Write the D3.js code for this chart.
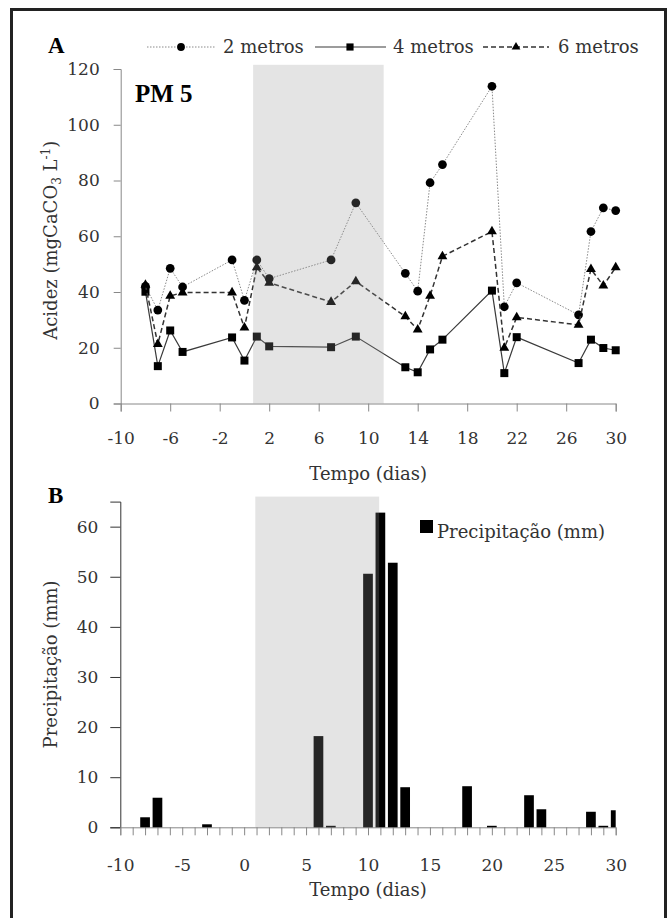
<!DOCTYPE html>
<html>
<head>
<meta charset="utf-8">
<script src="https://cdn.jsdelivr.net/npm/d3@7"></script>
<style>
  body { margin: 0; background: #fff; }
  text { font-family: "DejaVu Serif", serif; fill: #333; }
  .bold { font-family: "Liberation Serif", serif; font-weight: bold; fill: #000; }
</style>
</head>
<body>
<svg width="670" height="918"></svg>
<script>
// --- data ---
const days = [-8, -7, -6, -5, -1, 0, 1, 2, 7, 9, 13, 14, 15, 16, 20, 21, 22, 27, 28, 29, 30];
const metros2 = [42, 33.5, 48.5, 41.8, 51.5, 37, 51.5, 44.8, 51.5, 72, 46.7, 40.3, 79.2, 85.7, 113.8, 34.7, 43.3, 31.8, 61.7, 70.2, 69.2];
const metros4 = [40.1, 13.4, 26.2, 18.5, 23.7, 15.4, 24, 20.5, 20.2, 24, 13, 11.2, 19.4, 22.9, 40.5, 10.9, 23.8, 14.5, 22.9, 19.9, 19.1];
const metros6 = [42.5, 21.3, 38.6, 39.8, 39.8, 27.2, 48.8, 43.3, 36.4, 43.8, 31.2, 26.5, 38.6, 52.8, 61.7, 19.9, 30.9, 28.2, 48.2, 42.3, 48.8];

const rainDays = [-8, -7, -3, 6, 7, 10, 11, 12, 13, 18, 20, 23, 24, 28, 29, 30];
const rainMm = [2, 5.9, 0.6, 18.2, 0.3, 50.6, 62.8, 52.8, 8, 8.2, 0.3, 6.4, 3.6, 3.1, 0.3, 3.4];

const shadeA = [0.7, 11.25];
const shadeB = [0.9, 10.9];
const ticksA = d3.range(-10, 31, 4);
const ticksAy = d3.range(0, 121, 20);
const ticksB = d3.range(-10, 31, 5);
const ticksBy = d3.range(0, 61, 10);

const svg = d3.select("svg");
const overlay = "rgba(149,149,149,0.255)";
const axisCol = "#888";
const plain = d => String(d);   // hyphen minus, like the original

// outer frame
svg.append("rect")
  .attr("x", 11.5).attr("y", 9.5).attr("width", 654).attr("height", 920)
  .attr("fill", "none").attr("stroke", "#222").attr("stroke-width", 3);

// ================= panel A =================
const xA = d3.scaleLinear().domain([-10, 30]).range([120.7, 615.7]);
const yA = d3.scaleLinear().domain([0, 120]).range([403.5, 69]);

const gA = svg.append("g");

const yAxisA = gA.append("g").attr("transform", `translate(${xA(-10)},0)`)
  .call(d3.axisLeft(yA).tickValues(ticksAy).tickSize(7).tickPadding(14).tickFormat(plain));
const xAxisA = gA.append("g").attr("transform", `translate(0,${yA(0)})`)
  .call(d3.axisBottom(xA).tickValues(ticksA).tickSize(8).tickPadding(20).tickFormat(plain));
[yAxisA, xAxisA].forEach(a => {
  a.selectAll("path,line").attr("stroke", axisCol);
  a.selectAll("text").attr("font-size", 17).attr("font-family", "DejaVu Serif").attr("fill", "#333");
});

const series = [
  { name: "2 metros", values: metros2, sym: d3.symbolCircle, size: 60, stroke: "#8a8a8a", width: 1, dash: "1.5,1.5" },
  { name: "4 metros", values: metros4, sym: d3.symbolSquare, size: 64, stroke: "#3a3a3a", width: 1.2, dash: null },
  { name: "6 metros", values: metros6, sym: d3.symbolTriangle, size: 42, stroke: "#333", width: 1.5, dash: "5,3" }
];

const line = d3.line().x(d => xA(d[0])).y(d => yA(d[1]));
series.forEach(s => {
  const pts = days.map((d, i) => [d, s.values[i]]);
  gA.append("path").datum(pts)
    .attr("d", line)
    .attr("fill", "none")
    .attr("stroke", s.stroke)
    .attr("stroke-width", s.width)
    .attr("stroke-dasharray", s.dash);
  gA.selectAll(null).data(pts).enter().append("path")
    .attr("d", d3.symbol().type(s.sym).size(s.size))
    .attr("transform", d => `translate(${xA(d[0])},${yA(d[1])})`)
    .attr("fill", "#000");
});

// shaded period drawn on top (marks show through darkened)
gA.append("rect")
  .attr("x", xA(shadeA[0])).attr("width", xA(shadeA[1]) - xA(shadeA[0]))
  .attr("y", yA(121.5)).attr("height", yA(0) - yA(121.5))
  .attr("fill", overlay);

gA.append("text").attr("class", "bold").attr("x", 135).attr("y", 102)
  .attr("font-size", 25).text("PM 5");
svg.append("text").attr("class", "bold").attr("x", 48).attr("y", 53)
  .attr("font-size", 23).text("A");

const yLabA = svg.append("text")
  .attr("transform", `translate(57,${(yA(0) + yA(120)) / 2 + 4}) rotate(-90)`)
  .attr("text-anchor", "middle").attr("font-size", 18);
yLabA.append("tspan").text("Acidez (mgCaCO");
yLabA.append("tspan").attr("font-size", 12).attr("dy", 4).text("3");
yLabA.append("tspan").attr("dy", -4).text(" L");
yLabA.append("tspan").attr("font-size", 12).attr("dy", -7).text("-1");
yLabA.append("tspan").attr("dy", 7).text(")");

svg.append("text").attr("x", xA(10)).attr("y", 480)
  .attr("text-anchor", "middle").attr("font-size", 18).text("Tempo (dias)");

// legend A
const legA = [
  { lx: [147, 215], mx: 181, tx: 223 },
  { lx: [315, 386], mx: 350, tx: 393 },
  { lx: [483, 549], mx: 516, tx: 558 }
];
series.forEach((s, i) => {
  const l = legA[i];
  svg.append("line").attr("x1", l.lx[0]).attr("x2", l.lx[1]).attr("y1", 47).attr("y2", 47)
    .attr("stroke", s.stroke).attr("stroke-width", s.width).attr("stroke-dasharray", s.dash);
  svg.append("path").attr("d", d3.symbol().type(s.sym).size(s.size * 0.8))
    .attr("transform", `translate(${l.mx},47)`).attr("fill", "#000");
  svg.append("text").attr("x", l.tx).attr("y", 53).attr("font-size", 18).text(s.name);
});

// ================= panel B =================
const xB = d3.scaleLinear().domain([-10, 30]).range([120.3, 615.7]);
const yB = d3.scaleLinear().domain([0, 65]).range([827.3, 501.6]);
const barW = 9.7;

svg.append("clipPath").attr("id", "clipB").append("rect")
  .attr("x", xB(-10)).attr("y", 480).attr("width", xB(30) - xB(-10)).attr("height", 360);

const gB = svg.append("g");

const yAxisB = gB.append("g").attr("transform", `translate(${xB(-10)},0)`)
  .call(d3.axisLeft(yB).tickValues(ticksBy).tickSize(10).tickPadding(12).tickFormat(plain));
yAxisB.selectAll("path,line").attr("stroke", "#333");
const xAxisB = gB.append("g").attr("transform", `translate(0,${yB(0)})`)
  .call(d3.axisBottom(xB).tickValues(d3.range(-10, 31, 1)).tickSize(8).tickPadding(24)
    .tickFormat(d => ticksB.includes(d) ? String(d) : ""));
xAxisB.selectAll("path,line").attr("stroke", axisCol);
[yAxisB, xAxisB].forEach(a => {
  a.selectAll("text").attr("font-size", 17).attr("font-family", "DejaVu Serif").attr("fill", "#333");
});

gB.append("g").attr("clip-path", "url(#clipB)")
  .selectAll("rect").data(rainDays.map((d, i) => [d, rainMm[i]]))
  .enter().append("rect")
  .attr("x", d => xB(d[0]) - barW / 2)
  .attr("width", barW)
  .attr("y", d => yB(d[1]))
  .attr("height", d => yB(0) - yB(d[1]))
  .attr("fill", "#000");

gB.append("rect")
  .attr("x", xB(shadeB[0])).attr("width", xB(shadeB[1]) - xB(shadeB[0]))
  .attr("y", yB(66)).attr("height", yB(0) - yB(66))
  .attr("fill", overlay);

svg.append("text").attr("class", "bold").attr("x", 48).attr("y", 503)
  .attr("font-size", 23).text("B");

svg.append("text")
  .attr("transform", `translate(57,${(yB(0) + yB(65)) / 2}) rotate(-90)`)
  .attr("text-anchor", "middle").attr("font-size", 18).text("Precipitação (mm)");

svg.append("text").attr("x", xB(10)).attr("y", 896)
  .attr("text-anchor", "middle").attr("font-size", 18).text("Tempo (dias)");

// legend B
svg.append("rect").attr("x", 420).attr("y", 520).attr("width", 13).attr("height", 13).attr("fill", "#000");
svg.append("text").attr("x", 437).attr("y", 538).attr("font-size", 18).text("Precipitação (mm)");
</script>
</body>
</html>
